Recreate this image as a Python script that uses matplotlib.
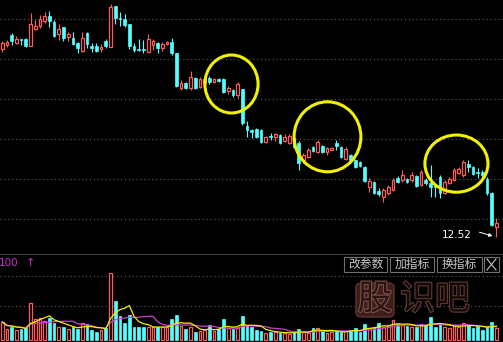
import numpy as np
import pandas as pd
import matplotlib
matplotlib.use('Agg')
import matplotlib.pyplot as plt
from matplotlib.patches import Ellipse, Rectangle, FancyBboxPatch
from matplotlib.lines import Line2D
import matplotlib.patheffects as pe

# daily OHLC
opens = [17.23, 17.33, 17.58, 17.38, 17.48, 17.48, 17.30, 17.73, 17.80, 17.93,
         18.05, 17.90, 17.60, 17.78, 17.53, 17.50, 17.38, 17.18, 17.63, 17.30,
         17.30, 17.23, 17.43, 17.28, 18.30, 18.00, 17.98, 17.85, 17.30, 17.23,
         17.23, 17.15, 17.33, 17.38, 17.25, 17.35, 17.40, 17.13, 16.25, 16.38,
         16.25, 16.50, 16.28, 16.38, 16.50, 16.40, 16.48, 16.48, 16.18, 16.20,
         16.08, 16.23, 15.30, 15.20, 15.23, 15.20, 14.90, 15.05, 15.03, 15.08,
         14.93, 14.88, 15.00, 14.88, 14.45, 14.53, 14.78, 14.65, 14.80, 14.65,
         14.71, 14.88, 14.78, 14.48, 14.58, 14.45, 14.40, 14.28, 13.78, 13.90,
         13.68, 13.53, 13.63, 13.70, 14.00, 13.95, 13.98, 13.95, 14.05, 13.83,
         13.95, 13.88, 13.83, 14.03, 13.63, 13.88, 13.95, 14.13, 14.08, 14.35,
         14.28, 14.15, 14.15, 13.98, 13.63, 12.78]
highs = [17.43, 17.45, 17.63, 17.55, 17.48, 17.50, 18.13, 17.95, 18.08, 18.15,
         18.18, 17.95, 17.85, 17.78, 17.65, 17.65, 17.40, 17.65, 17.65, 17.38,
         17.38, 17.35, 17.48, 18.35, 18.30, 18.15, 18.10, 17.85, 17.38, 17.48,
         17.45, 17.60, 17.48, 17.40, 17.40, 17.43, 17.50, 17.13, 16.45, 16.40,
         16.68, 16.53, 16.53, 16.50, 16.55, 16.50, 16.50, 16.50, 16.30, 16.23,
         16.40, 16.23, 15.43, 15.23, 15.25, 15.23, 15.05, 15.13, 15.13, 15.10,
         15.10, 15.10, 15.03, 14.93, 14.63, 14.75, 14.80, 14.95, 14.83, 14.78,
         14.78, 14.95, 14.80, 14.78, 14.60, 14.48, 14.43, 14.30, 14.00, 13.93,
         13.75, 13.75, 13.83, 14.00, 14.05, 14.20, 14.00, 14.15, 14.08, 14.20,
         14.00, 14.33, 13.85, 14.08, 13.95, 14.03, 14.25, 14.28, 14.45, 14.45,
         14.30, 14.25, 14.20, 14.03, 13.65, 13.00]
lows = [17.15, 17.28, 17.33, 17.35, 17.33, 17.28, 17.30, 17.70, 17.75, 17.88,
        17.78, 17.53, 17.45, 17.43, 17.43, 17.33, 17.13, 17.15, 17.25, 17.15,
        17.15, 17.15, 17.25, 17.28, 17.85, 17.80, 17.78, 17.23, 17.15, 17.18,
        17.13, 17.15, 17.20, 17.13, 17.18, 17.33, 17.08, 16.28, 16.20, 16.23,
        16.20, 16.23, 16.25, 16.35, 16.35, 16.38, 16.40, 16.13, 16.10, 16.03,
        16.00, 15.33, 15.03, 15.00, 15.00, 14.88, 14.88, 14.95, 14.93, 14.85,
        14.90, 14.85, 14.75, 14.20, 14.38, 14.50, 14.65, 14.63, 14.63, 14.58,
        14.70, 14.70, 14.50, 14.45, 14.43, 14.25, 14.28, 13.90, 13.65, 13.60,
        13.55, 13.40, 13.58, 13.68, 13.88, 13.90, 13.88, 13.90, 13.78, 13.80,
        13.83, 13.53, 13.53, 13.50, 13.60, 13.85, 13.93, 14.10, 14.03, 14.15,
        14.08, 14.00, 14.00, 13.58, 12.80, 12.52]
closes = [17.38, 17.40, 17.43, 17.48, 17.45, 17.30, 17.85, 17.80, 17.98, 18.05,
          17.93, 17.55, 17.73, 17.50, 17.60, 17.35, 17.25, 17.50, 17.35, 17.25,
          17.18, 17.28, 17.30, 18.28, 18.00, 17.98, 17.83, 17.30, 17.20, 17.21,
          17.20, 17.48, 17.43, 17.25, 17.35, 17.40, 17.13, 16.30, 16.38, 16.25,
          16.53, 16.25, 16.48, 16.48, 16.40, 16.48, 16.43, 16.15, 16.25, 16.08,
          16.35, 15.38, 15.20, 15.15, 15.03, 14.90, 15.03, 15.03, 15.10, 14.88,
          15.03, 15.05, 14.78, 14.38, 14.58, 14.70, 14.68, 14.90, 14.65, 14.75,
          14.75, 14.80, 14.53, 14.73, 14.45, 14.28, 14.30, 13.93, 13.93, 13.63,
          13.60, 13.70, 13.78, 13.95, 13.90, 14.08, 13.90, 14.08, 13.80, 14.15,
          13.88, 13.78, 13.78, 13.63, 13.90, 13.98, 14.20, 14.23, 14.40, 14.28,
          14.10, 14.13, 14.08, 13.63, 12.83, 12.88]
# volume, thousand lots
volumes = [18, 11, 13, 10, 11, 12, 37, 21, 22, 19,
           22, 17, 13, 13, 11, 13, 11, 17, 16, 10,
           8, 10, 12, 67, 39, 24, 17, 25, 13, 13,
           13, 13, 13, 13, 13, 13, 21, 25, 14, 11,
           13, 8, 9, 10, 15, 9, 11, 21, 12, 11,
           12, 24, 14, 13, 10, 9, 7, 8, 8, 7,
           7, 6, 8, 11, 8, 7, 12, 12, 9, 7,
           8, 9, 8, 9, 10, 12, 8, 16, 12, 13,
           17, 13, 15, 20, 16, 15, 14, 13, 13, 16,
           15, 23, 13, 16, 13, 12, 15, 13, 17, 15,
           12, 14, 10, 13, 18, 12]

buttons = ['改参数', '加指标', '换指标']

UP = '#ff5c5c'
DOWN = '#54ffff'
BG = 'black'
GRID = '#5c5c5c'

o = np.array(opens); h = np.array(highs); l = np.array(lows); c = np.array(closes)
v = np.array(volumes, dtype=float)
n = len(o)
x = np.arange(n)
up = c >= o
body_lo = np.minimum(o, c)
body_hi = np.maximum(o, c)

W, H = 503, 342
fig = plt.figure(figsize=(W / 100, H / 100), dpi=100, facecolor=BG)
ax = fig.add_axes([0, 88 / H, 1, 254 / H])
axv = fig.add_axes([0, 0, 1, 88 / H])

step = 4.706  # px per bar
x0 = -2.3 / step
for a in (ax, axv):
    a.set_facecolor(BG)
    a.set_xlim(x0, x0 + W / step)
    a.set_xticks([]); a.set_yticks([])
    for s in a.spines.values():
        s.set_visible(False)

ax.set_ylim(12.10, 18.45)
axv.set_ylim(-2, 86)

# dotted grid
for g in np.arange(12.975, 18.2, 1.0):
    ax.axhline(g, color=GRID, lw=0.8, ls=(0, (1, 2.5)), zorder=0)
for g in (34, 64):
    axv.axhline(g, color=GRID, lw=0.8, ls=(0, (1, 2.5)), zorder=0)
axv.axhline(86, color='#555555', lw=1.2)

# candles
bw = 0.58
ax.vlines(x[~up], l[~up], h[~up], color=DOWN, lw=0.8, zorder=2)
ax.vlines(x[up], body_hi[up], h[up], color=UP, lw=0.8, zorder=2)
ax.vlines(x[up], l[up], body_lo[up], color=UP, lw=0.8, zorder=2)
ax.bar(x[~up], body_hi[~up] - body_lo[~up], bottom=body_lo[~up], width=bw,
       color=DOWN, edgecolor=DOWN, lw=0.5, zorder=3)
ax.bar(x[up], body_hi[up] - body_lo[up], bottom=body_lo[up], width=bw,
       facecolor=BG, edgecolor=UP, lw=0.9, zorder=3)

# last low label
ax.annotate(f'{lows[-1]:.2f}', xy=(n - 1, lows[-1]), xytext=(-25, 2),
            textcoords='offset pixels', ha='right', va='center',
            color='white', fontsize=7.5)
ax.annotate('', xy=(n - 1, lows[-1]), xytext=(-17, 5), textcoords='offset pixels',
            arrowprops=dict(arrowstyle='-|>', color='white', lw=0.7,
                            mutation_scale=5, shrinkA=0, shrinkB=3))

# yellow circles marking the consolidation zones (center bar, center price, w, h)
marks = [(48.7, 16.35, 11.3, 1.45), (69.1, 15.03, 14.2, 1.75), (96.5, 14.36, 13.4, 1.43)]
for cx, cy, ew, eh in marks:
    ax.add_patch(Ellipse((cx, cy), ew, eh, fill=False, ec='#f2f200', lw=2.2, zorder=5))

# volume
axv.bar(x[~up], v[~up], width=bw, color=DOWN, edgecolor=DOWN, lw=0.5, zorder=2)
axv.bar(x[up], v[up], width=bw, facecolor=BG, edgecolor=UP, lw=0.9, zorder=2)
ma5 = pd.Series(v).rolling(5, min_periods=1).mean()
ma10 = pd.Series(v).rolling(10, min_periods=1).mean()
axv.plot(x, ma10, color='#d040d0', lw=0.9, zorder=3)
axv.plot(x, ma5, color='#f0f000', lw=0.9, zorder=4)

# indicator header and toolbar
fig.text(-1 / W, 1 - 263 / H, '100', color='#c830c8', fontsize=7.5, va='center')
fig.text(26 / W, 1 - 263 / H, '↑', color='#c830c8', fontsize=8, va='center')

edges = [(344, 387), (390, 434), (437, 482)]
for lab, (xa, xb) in zip(buttons, edges):
    fig.patches.append(Rectangle((xa / W, 1 - 272 / H), (xb - xa) / W, 15 / H,
                                 transform=fig.transFigure, fill=False, ec='#707070', lw=0.8))
    fig.text((xa + xb) / 2 / W, 1 - 264.5 / H, lab, color='#c8c8c8', fontsize=8.5,
             ha='center', va='center', family=['Noto Sans CJK SC', 'DejaVu Sans'])
fig.patches.append(Rectangle((484 / W, 1 - 272 / H), 15 / W, 15 / H,
                             transform=fig.transFigure, fill=False, ec='#707070', lw=0.8))
for (xa, ya, xb, yb) in [(487, 259, 496, 270), (487, 270, 496, 259)]:
    fig.lines.append(Line2D([xa / W, xb / W], [1 - ya / H, 1 - yb / H],
                            transform=fig.transFigure, color='#c8c8c8', lw=0.8))

# watermark
fig.patches.append(FancyBboxPatch((356 / W, 1 - 317 / H), 38 / W, 34 / H,
                                  boxstyle='round,pad=0,rounding_size=0.012',
                                  transform=fig.transFigure, fc='#3e1e19', ec='#5e342c', lw=1))
fig.text(375 / W, 1 - 300 / H, '股', color='#2a1410', fontsize=25, ha='center', va='center',
         family=['Noto Sans CJK SC'],
         path_effects=[pe.withStroke(linewidth=1.6, foreground='#7a5048')])
fig.text(435 / W, 1 - 300 / H, '识吧', color='#160a08', fontsize=25, ha='center', va='center',
         family=['Noto Sans CJK SC'],
         path_effects=[pe.withStroke(linewidth=1.6, foreground='#5e3a33')])

fig.savefig('out.png', dpi=100, facecolor=BG)
